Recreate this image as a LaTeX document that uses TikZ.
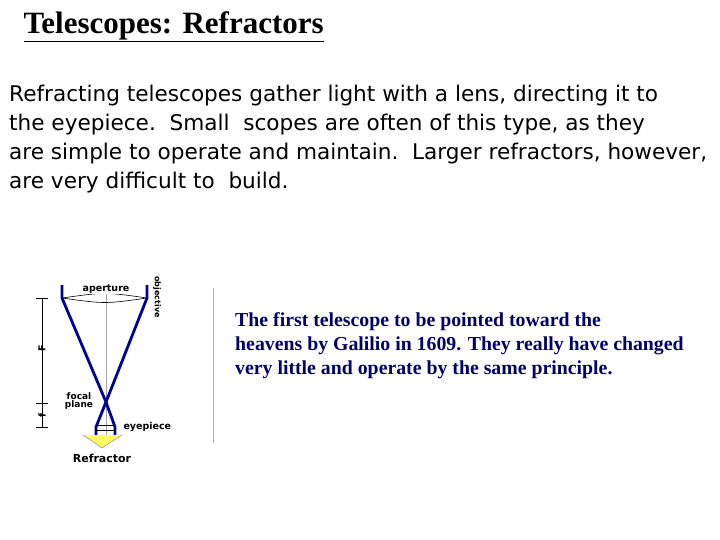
\documentclass[tikz,border=0pt]{standalone}
\usepackage{fontspec}
\setmainfont{Liberation Serif}
\newfontfamily\para{DejaVu Sans}
\newfontfamily\lab{DejaVu Sans}
\begin{document}
\begin{tikzpicture}[x=1pt,y=-1pt,
  tube/.style={draw=blue!60!black,line width=2.8pt},
  small/.style={font=\lab\bfseries\fontsize{9.5}{9}\selectfont},
  dim/.style={draw=black,line width=0.8pt}]
\useasboundingbox (0,0) rectangle (720,540);
\node[anchor=west,font=\bfseries\fontsize{31}{32}\selectfont] (title) at (20,27) {\underline{Telescopes: Refractors}};
\node[anchor=north west,align=left,inner sep=0pt,font=\para\fontsize{21.6}{29}\selectfont] (para) at (9,85)
{Refracting telescopes gather light with a lens, directing it to\\
the eyepiece.\ \ Small\ \ scopes are often of this type, as they\\
are simple to operate and maintain.\ \ Larger refractors, however,\\
are very difficult to\ \ build.};
\node[anchor=north west,align=left,inner sep=0pt,text=blue!40!black,font=\bfseries\fontsize{19.8}{24}\selectfont] (cap) at (235,312)
{The first telescope to be pointed toward the\\
heavens by Galilio in 1609. They really have changed\\
very little and operate by the same principle.};
% diagram
\coordinate (tl) at (62,285); \coordinate (tr) at (147,285);
\coordinate (ll) at (62,298); \coordinate (lr) at (147,298);
\coordinate (x) at (106,402);
\coordinate (el) at (96,427); \coordinate (er) at (115,427);
\draw[gray!70,line width=0.5pt] (106,285) -- (106,436);
\draw[gray!60,line width=1pt] (213,288) -- (213,443);
\draw[black,line width=0.6pt] (ll) .. controls (105,292) .. (lr) .. controls (105,304) .. (ll);
\draw[tube] (tl) -- (ll) -- (x) -- (er) -- (115,436);
\draw[tube] (tr) -- (lr) -- (x) -- (el) -- (96,436);
\draw[black,line width=0.6pt] (96,425) -- (115,425) (96,430) -- (115,430);
\fill[yellow!60] (83,435) -- (122,435) -- (102,448) -- cycle;
\draw[gray,line width=0.4pt] (83,435) -- (102,448) -- (122,435);
\draw[dim] (42,298) -- (42,427);
\foreach \y in {298,403,427} \draw[dim] (36,\y) -- (48,\y);
\node[rotate=90,small] (F) at (42,348) {F};
\node[rotate=90,small] (f) at (42,415) {f};
\node[small,fill=white,inner sep=0.5pt] (ap) at (106,289) {aperture};
\node[small,rotate=-90,font=\lab\bfseries\fontsize{8}{8}\selectfont] (obj) at (157,297) {objective};
\node[small,align=center,inner sep=0pt,font=\lab\bfseries\fontsize{9}{8}\selectfont] (fp) at (79,401) {focal\\plane};
\node[small,anchor=west] (ep) at (120,427) {eyepiece};
\node[font=\lab\bfseries\fontsize{11}{11}\selectfont] (ref) at (102,458) {Refractor};
\end{tikzpicture}
\end{document}
